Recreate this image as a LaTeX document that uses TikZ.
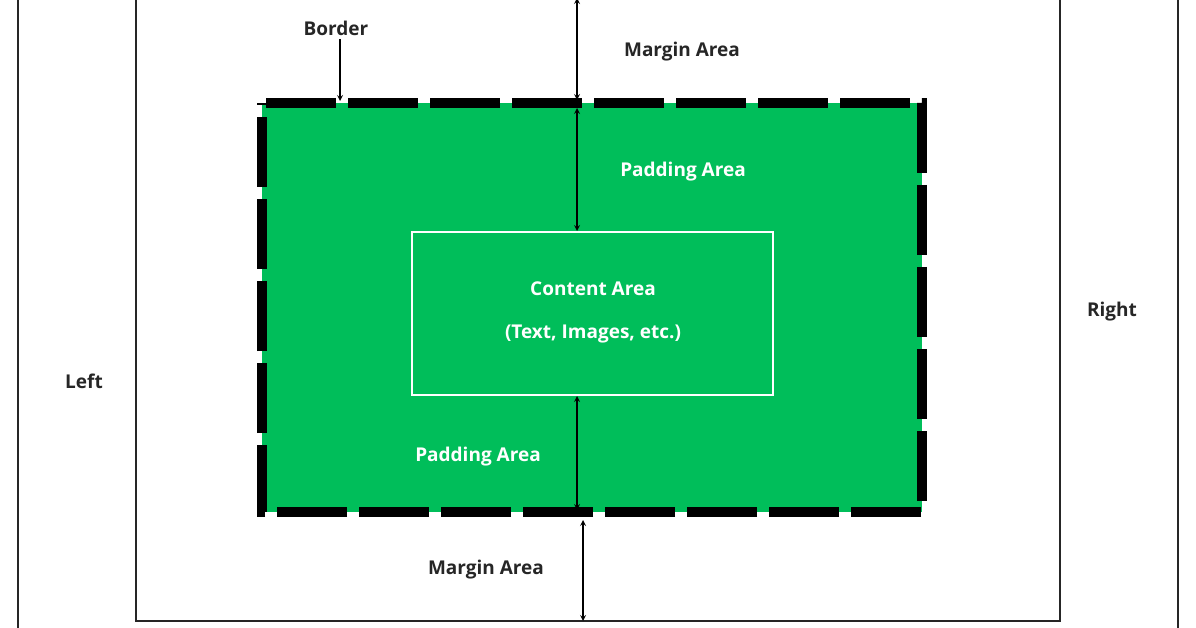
\documentclass[tikz,border=0pt]{standalone}
\usepackage{fontspec}
\setmainfont{Open Sans}
\begin{document}
\begin{tikzpicture}[x=1pt,y=-1pt,
  lbl/.style={font=\fontsize{19}{23}\selectfont\bfseries, text=black!85},
  wlbl/.style={lbl, text=white},
  frame/.style={line width=2.5pt, draw=black!85},
  arr/.style={line width=1.6pt, <->, >=stealth}]
\definecolor{grn}{RGB}{0,190,90}
\useasboundingbox (0,0) rectangle (1196,628);
\draw[frame] (18,-5) -- (18,640);
\draw[frame] (1178,-5) -- (1178,640);
\draw[frame] (136,-5) -- (136,621) -- (1060,621) -- (1060,-5);
\fill[grn] (262,103) rectangle (922,512);
\draw[line width=10pt, dash pattern=on 70pt off 12pt, dash phase=-4pt] (262,103) -- (922,103) -- (922,512) -- (262,512) -- cycle;
\node[draw=white, line width=2pt, minimum width=361pt, minimum height=163pt] (content) at (592.5,313.5) {};
\node[wlbl] (ca) at (593,289) {Content Area};
\node[wlbl] (ct) at (593,334) {(Text, Images, etc.)};
\coordinate (mt) at (577,-2);
\coordinate (bt) at (577,100);
\coordinate (pt1) at (577,108);
\coordinate (ctop) at (577,231);
\coordinate (cbot) at (577,396);
\coordinate (bb) at (577,510);
\coordinate (mb1) at (583,520);
\coordinate (mb2) at (583,621);
\draw[arr] (mt) -- (bt);
\draw[arr] (pt1) -- (ctop);
\draw[arr] (cbot) -- (bb);
\draw[arr] (mb1) -- (mb2);
\node[lbl] (border) at (336,28) {Border};
\coordinate (btip) at (340,101);
\draw[line width=1.6pt, ->, >=stealth] (border.south -| btip) -- (btip);
\node[lbl] (m1) at (682,52) {Margin Area};
\node[wlbl] (p1) at (683,172) {Padding Area};
\node[wlbl] (p2) at (478,457) {Padding Area};
\node[lbl] (m2) at (486,570) {Margin Area};
\node[lbl] (r) at (1112,312) {Right};
\node[lbl] (l) at (84,381) {Left};
\end{tikzpicture}
\end{document}
